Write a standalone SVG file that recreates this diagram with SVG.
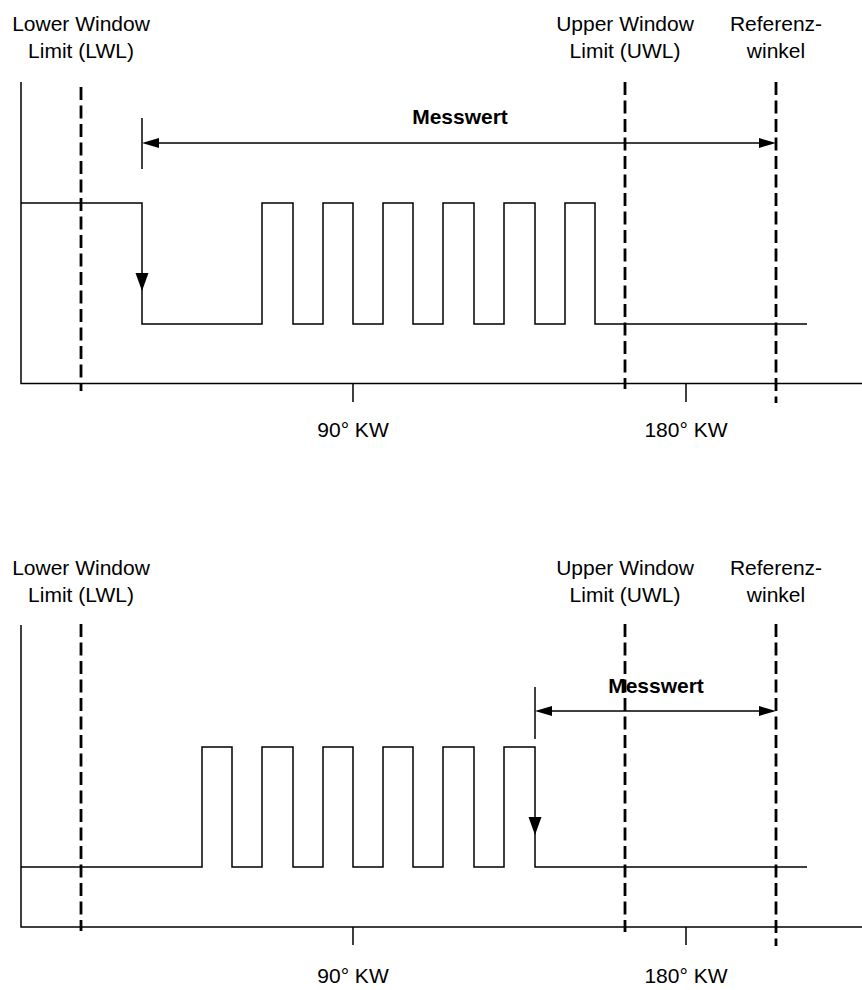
<svg xmlns="http://www.w3.org/2000/svg" width="862" height="990" viewBox="0 0 862 990">
<style>
  .t { font-family: "Liberation Sans", Arial, sans-serif; font-size: 21px; fill: #000; text-anchor: middle; }
  .b { font-weight: bold; }
  .ln { stroke: #000; stroke-width: 1.5; fill: none; }
  .dash { stroke: #000; stroke-width: 2.8; stroke-dasharray: 13 5.5; fill: none; }
  .ah { fill: #000; stroke: none; }
</style>
<rect width="862" height="990" fill="#fff"/>

<!-- TOP DIAGRAM -->
<g id="top-labels">
  <text class="t" x="81" y="31">Lower Window</text>
  <text class="t" x="81" y="58">Limit (LWL)</text>
  <text class="t" x="625" y="31">Upper Window</text>
  <text class="t" x="625" y="58">Limit (UWL)</text>
  <text class="t" x="776" y="31">Referenz-</text>
  <text class="t" x="776" y="58">winkel</text>
  <text class="t" x="353" y="437">90° KW</text>
  <text class="t" x="686" y="437">180° KW</text>
</g>
<g id="top-axes">
  <path class="ln" d="M21,82 V383.5 H862"/>
  <path class="ln" d="M353,383.5 V402 M686,383.5 V402"/>
</g>
<g id="top-limits">
  <line class="dash" x1="81" y1="87" x2="81" y2="391"/>
  <line class="dash" x1="625" y1="82" x2="625" y2="389"/>
  <line class="dash" x1="776" y1="82" x2="776" y2="403"/>
</g>
<g id="top-signal">
  <path class="ln" d="M21,203 H142 V324 H262 V203 H293 V324 H323 V203 H353 V324 H383 V203 H413 V324 H443 V203 H474 V324 H504 V203 H535 V324 H565 V203 H595 V324 H807"/>
  <polygon class="ah" points="135.5,273 148.5,273 142,291"/>
</g>
<g id="top-messwert">
  <text class="t b" x="460" y="124">Messwert</text>
  <line class="ln" x1="142" y1="118" x2="142" y2="169"/>
  <line class="ln" x1="150" y1="143" x2="768" y2="143"/>
  <polygon class="ah" points="142,143 159,138 159,148"/>
  <polygon class="ah" points="776,143 759,138 759,148"/>
</g>

<!-- BOTTOM DIAGRAM -->
<g id="bottom-labels">
  <text class="t" x="81" y="575">Lower Window</text>
  <text class="t" x="81" y="602">Limit (LWL)</text>
  <text class="t" x="625" y="575">Upper Window</text>
  <text class="t" x="625" y="602">Limit (UWL)</text>
  <text class="t" x="776" y="575">Referenz-</text>
  <text class="t" x="776" y="602">winkel</text>
  <text class="t" x="353" y="983">90° KW</text>
  <text class="t" x="686" y="983">180° KW</text>
</g>
<g id="bottom-axes">
  <path class="ln" d="M21,625 V927 H862"/>
  <path class="ln" d="M353,927 V945 M686,927 V945"/>
</g>
<g id="bottom-limits">
  <line class="dash" x1="81" y1="624" x2="81" y2="931"/>
  <line class="dash" x1="625" y1="624" x2="625" y2="932"/>
  <line class="dash" x1="776" y1="624" x2="776" y2="946"/>
</g>
<g id="bottom-signal">
  <path class="ln" d="M21,867 H202 V747 H232 V867 H262 V747 H293 V867 H323 V747 H353 V867 H383 V747 H413 V867 H443 V747 H474 V867 H504 V747 H535 V867 H807"/>
  <polygon class="ah" points="528.5,817 541.5,817 535,835"/>
</g>
<g id="bottom-messwert">
  <text class="t b" x="656" y="693">Messwert</text>
  <line class="ln" x1="535" y1="687" x2="535" y2="739"/>
  <line class="ln" x1="543" y1="711" x2="768" y2="711"/>
  <polygon class="ah" points="535,711 552,706 552,716"/>
  <polygon class="ah" points="776,711 759,706 759,716"/>
</g>
</svg>
